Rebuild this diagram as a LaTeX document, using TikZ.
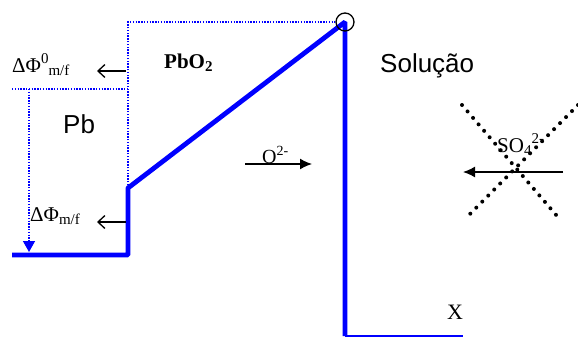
\documentclass[tikz,border=0pt]{standalone}
\usepackage{fontspec}
\setmainfont{Liberation Serif}
\setsansfont{Liberation Sans}
\usetikzlibrary{arrows.meta}

% hoch- und tiefgestellte Indizes
\newcommand{\supidx}[2]{\raisebox{#1}{\fontsize{15}{15}\selectfont #2}}
\newcommand{\subidx}[2]{\raisebox{#1}{\fontsize{15}{15}\selectfont #2}}

\begin{document}
\begin{tikzpicture}[x=1pt,y=-1pt,
    electrode/.style={draw=blue,line width=4.8pt,line join=bevel},
    guide/.style={draw=blue,line width=1.4pt,dash pattern=on 1.4pt off 1.4pt},
    blocked/.style={line width=4pt,line cap=round,dash pattern=on 0pt off 8.5pt},
    potarrow/.style={-{Straight Barb[length=7pt,width=13pt]},line width=1.3pt},
    ionarrow/.style={-{Latex[length=12pt,width=11pt]},line width=1.4pt},
    potlabel/.style={inner sep=0pt,anchor=base west,font=\fontsize{21}{24}\selectfont},
    phaselabel/.style={inner sep=0pt,anchor=base west,font=\sffamily\fontsize{26}{30}\selectfont},
    ionlabel/.style={inner sep=0pt,anchor=base west,font=\fontsize{20}{22}\selectfont}]
%
\useasboundingbox (0,0) rectangle (578,337);
%
% ============ Potentialprofil ============
\coordinate (start)  at (12,255);
\coordinate (foot)   at (128,255);
\coordinate (kink)   at (128,188);
\coordinate (top)    at (345,22);
\coordinate (bottom) at (345,336);
\coordinate (xend)   at (463,336);
\draw[electrode] (start) -- (foot) -- (kink) -- (top) -- (bottom);
\draw[blue,line width=1.6pt] (bottom) -- (xend);
% Kontaktpunkt
\node[circle,draw,line width=1.3pt,inner sep=0pt,minimum size=18pt] (contact) at (top) {};
%
% ============ Hilfslinien ============
\coordinate (corner) at (128,22);
\coordinate (levelL) at (12,89);
\coordinate (levelR) at (128,89);
\coordinate (dropT)  at (29,89);
\coordinate (dropB)  at (29,252);
\draw[guide] (kink) -- (corner) -- (contact.west);
\draw[guide] (levelL) -- (levelR);
\draw[guide,-{Triangle[length=11pt,width=12pt]}] (dropT) -- (dropB);
%
% ============ Potentialsprünge ============
\node[potlabel] (dphi0) at (12,72) {ΔΦ\supidx{9pt}{0}\subidx{-3pt}{m/f}};
\node[potlabel] (dphi)  at (30,221) {ΔΦ\subidx{-3pt}{m/f}};
\coordinate (a0s) at (126,71);
\coordinate (a0e) at (97,71);
\coordinate (a1s) at (126,222);
\coordinate (a1e) at (97,222);
\draw[potarrow] (a0s) -- (a0e);
\draw[potarrow] (a1s) -- (a1e);
%
% ============ Phasen ============
\node[phaselabel] (pb)   at (63,133) {Pb};
\node[phaselabel] (sol)  at (380,73) {Solução};
\node[inner sep=0pt,anchor=base west,font=\bfseries\fontsize{21}{24}\selectfont] (pbo2) at (164,68)
  {PbO\raisebox{-3pt}{\fontsize{15}{15}\selectfont 2}};
\node[inner sep=0pt,anchor=base west,font=\fontsize{22}{24}\selectfont] (xlab) at (447,319) {X};
%
% ============ Ionen ============
\node[ionlabel] (oxy) at (262,163) {O\raisebox{8pt}{\fontsize{14}{14}\selectfont 2-}};
\coordinate (os) at (245,164);
\coordinate (oe) at (312,164);
\draw[ionarrow] (os) -- (oe);
%
\node[ionlabel,font=\fontsize{21}{24}\selectfont] (sulf) at (497,152)
  {SO\raisebox{-3pt}{\fontsize{15}{15}\selectfont 4}\raisebox{9pt}{\fontsize{15}{15}\selectfont 2-}};
\coordinate (ss) at (563,172);
\coordinate (se) at (463,172);
\draw[ionarrow] (ss) -- (se);
% gesperrt
\draw[blocked] (462,105) -- (557,216);
\draw[blocked] (578,105) -- (468,216);
%
\end{tikzpicture}
\end{document}
